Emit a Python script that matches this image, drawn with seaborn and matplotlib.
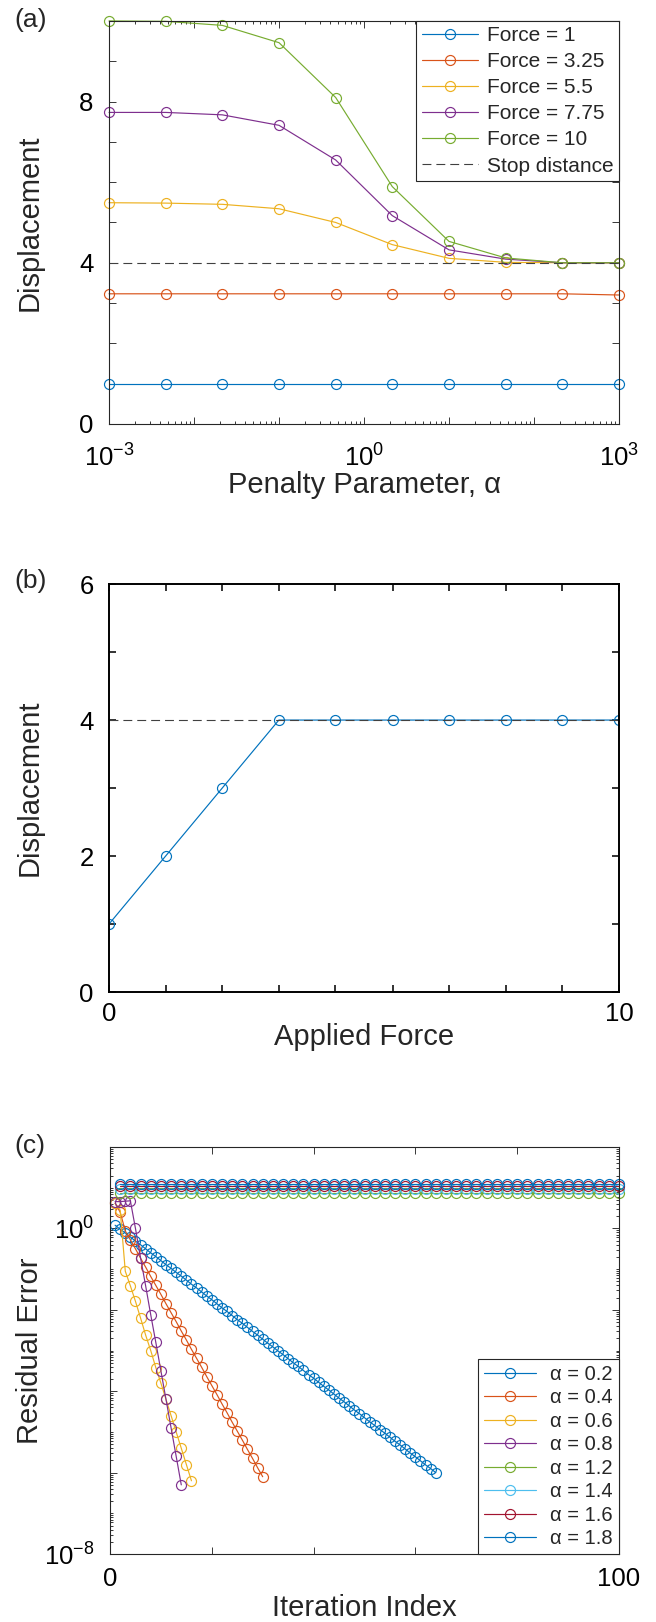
import numpy as np
import pandas as pd
import matplotlib
matplotlib.use('Agg')
import matplotlib.pyplot as plt
import seaborn as sns
from matplotlib.ticker import LogLocator, NullFormatter

# --- data ---
# (a) displacement vs penalty parameter
alpha_pen = [1e-3, 4.64e-3, 2.15e-2, 0.1, 0.464, 2.15, 10, 46.4, 215, 1000]
force_labels = ['Force = 1', 'Force = 3.25', 'Force = 5.5', 'Force = 7.75', 'Force = 10']
disp_f1 = [1.0, 1.0, 1.0, 1.0, 1.0, 1.0, 1.0, 1.0, 1.0, 1.0]
disp_f325 = [3.23, 3.23, 3.23, 3.23, 3.23, 3.23, 3.23, 3.23, 3.23, 3.20]
disp_f55 = [5.49, 5.48, 5.45, 5.34, 5.00, 4.45, 4.11, 4.01, 4.00, 4.00]
disp_f775 = [7.73, 7.73, 7.67, 7.41, 6.55, 5.17, 4.32, 4.09, 4.00, 4.00]
disp_f10 = [10.0, 9.99, 9.89, 9.46, 8.10, 5.89, 4.53, 4.12, 4.00, 4.00]
stop_distance = 4

# (b) displacement vs applied force
applied_force = [0, 1.11, 2.22, 3.33, 4.44, 5.56, 6.67, 7.78, 8.89, 10]
disp_b = [1, 2, 3, 4, 4, 4, 4, 4, 4, 4]

# (c) residual error (log10) per iteration
alpha_labels = ['α = 0.2', 'α = 0.4', 'α = 0.6', 'α = 0.8',
                'α = 1.2', 'α = 1.4', 'α = 1.6', 'α = 1.8']
res_02 = [0.08, -0.02, -0.11, -0.21, -0.31, -0.40, -0.50, -0.60, -0.69, -0.79,
          -0.89, -0.98, -1.08, -1.17, -1.27, -1.37, -1.46, -1.56, -1.66, -1.75,
          -1.85, -1.95, -2.04, -2.14, -2.24, -2.33, -2.43, -2.53, -2.62, -2.72,
          -2.82, -2.91, -3.01, -3.10, -3.20, -3.30, -3.39, -3.49, -3.59, -3.68,
          -3.78, -3.88, -3.97, -4.07, -4.17, -4.26, -4.36, -4.46, -4.55, -4.65,
          -4.75, -4.84, -4.94, -5.03, -5.13, -5.23, -5.32, -5.42, -5.52, -5.61,
          -5.71, -5.81, -5.90, -6.00]
res_04 = [0.62, 0.40, -0.06, -0.28, -0.50, -0.73, -0.95, -1.18, -1.40, -1.62,
          -1.85, -2.07, -2.29, -2.52, -2.74, -2.97, -3.19, -3.41, -3.64, -3.86,
          -4.08, -4.31, -4.53, -4.76, -4.98, -5.20, -5.43, -5.65, -5.88, -6.10]
res_06 = [0.62, 0.45, -1.05, -1.41, -1.79, -2.20, -2.62, -3.00, -3.42, -3.80,
          -4.20, -4.60, -5.00, -5.40, -5.80, -6.20]
res_08 = [0.66, 0.66, 0.67, 0.68, 0.00, -0.72, -1.41, -2.12, -2.80, -3.50,
          -4.20, -4.90, -5.60, -6.30]
flat_levels = {'α = 1.2': 7.3, 'α = 1.4': 9.3, 'α = 1.6': 11.0, 'α = 1.8': 12.3}

colors = ['#0072BD', '#D95319', '#EDB120', '#7E2F8E', '#77AC30', '#4DBEEE', '#A2142F', '#0072BD']

sns.set_theme(style='ticks')
plt.rcParams['font.family'] = ['Liberation Sans', 'DejaVu Sans']
plt.rcParams['mathtext.default'] = 'regular'

TICK_FS = 18.5
LABEL_FS = 21
AX_COL = '#262626'


def style_axes(ax, col=AX_COL, lw=0.8, xpad=9):
    for s in ax.spines.values():
        s.set_color(col)
        s.set_linewidth(lw)
        s.set_visible(True)
    ax.tick_params(which='both', direction='in', top=True, right=True, bottom=True, left=True,
                   color=col, width=lw * 0.8, labelsize=TICK_FS, labelcolor='black')
    ax.tick_params(which='major', length=5)
    ax.tick_params(which='minor', length=2.5)
    ax.tick_params(axis='x', which='major', pad=xpad)
    ax.tick_params(axis='y', which='major', pad=11)
    ax.grid(False)


def line(ax, x, y, col, label=None, clip=False):
    sns.lineplot(x=x, y=y, ax=ax, color=col, lw=0.85, marker='o', markersize=7.2,
                 markerfacecolor='none', markeredgecolor=col, markeredgewidth=0.85,
                 label=label, clip_on=clip, legend=False)


fig = plt.figure(figsize=(6.56, 16.22), dpi=100)

# ---------------- (a) ----------------
ax1 = fig.add_axes([0.1662, 0.7386, 0.7774, 0.2485])
for vals, lab, col in zip([disp_f1, disp_f325, disp_f55, disp_f775, disp_f10], force_labels, colors):
    line(ax1, alpha_pen, vals, col, lab)
ax1.axhline(stop_distance, color='#404040', lw=0.8, dashes=(8, 4.5), label='Stop distance')
ax1.set_xscale('log')
ax1.set_xlim(1e-3, 1e3)
ax1.set_ylim(0, 10)
ax1.set_xticks([1e-3, 1e-2, 1e-1, 1e0, 1e1, 1e2, 1e3])
ax1.set_xticklabels([r'$10^{-3}$', '', '', r'$10^{0}$', '', '', r'$10^{3}$'])
ax1.xaxis.set_minor_locator(LogLocator(base=10, subs=np.arange(2, 10), numticks=20))
ax1.xaxis.set_minor_formatter(NullFormatter())
ax1.set_yticks(range(0, 11))
ax1.set_yticklabels(['0', '', '', '', '4', '', '', '', '8', '', ''])
style_axes(ax1, xpad=15)
ax1.set_xlabel('Penalty Parameter, α', fontsize=LABEL_FS)
ax1.set_ylabel('Displacement', fontsize=LABEL_FS, va='center')
ax1.xaxis.set_label_coords(0.5, -0.117)
ax1.yaxis.set_label_coords(-0.155, 0.5)
leg1 = ax1.legend(loc='upper right', bbox_to_anchor=(1, 1), borderaxespad=0, fontsize=15,
                  frameon=True, fancybox=False, framealpha=1, edgecolor=AX_COL,
                  handlelength=2.7, handletextpad=0.45, labelspacing=0.34, borderpad=0.25)
leg1.get_frame().set_linewidth(0.8)

# ---------------- (b) ----------------
ax2 = fig.add_axes([0.1662, 0.3884, 0.7774, 0.2515])
line(ax2, applied_force, disp_b, colors[0], clip=True)
ax2.plot([0, 10], [stop_distance, stop_distance], color='#404040', lw=0.8, dashes=(8, 4.5))
ax2.set_xlim(0, 10)
ax2.set_ylim(0, 6)
ax2.set_xticks(applied_force)
ax2.set_xticklabels(['0', '', '', '', '', '', '', '', '', '10'])
ax2.set_yticks(range(0, 7))
ax2.set_yticklabels(['0', '', '2', '', '4', '', '6'])
style_axes(ax2, col='black', lw=1.4, xpad=7)
ax2.set_xlabel('Applied Force', fontsize=LABEL_FS)
ax2.set_ylabel('Displacement', fontsize=LABEL_FS, va='center')
ax2.xaxis.set_label_coords(0.5, -0.076)
ax2.yaxis.set_label_coords(-0.155, 0.5)

# ---------------- (c) ----------------
ax3 = fig.add_axes([0.1677, 0.0419, 0.7759, 0.2509])
conv = [res_02, res_04, res_06, res_08]
for vals, lab, col in zip(conv, alpha_labels[:4], colors[:4]):
    it = np.arange(1, len(vals) + 1)
    line(ax3, it, 10.0 ** np.array(vals), col, lab)
flat_it = np.arange(2, 101, 2)
for (lab, lev), col in zip(flat_levels.items(), colors[4:]):
    line(ax3, flat_it, np.full(len(flat_it), lev), col, lab)
ax3.set_yscale('log')
ax3.set_xlim(0, 100)
ax3.set_ylim(1e-8, 1e2)
ax3.set_xticks([0, 20, 40, 60, 80, 100])
ax3.set_xticklabels(['0', '', '', '', '', '100'])
ax3.set_yticks([1e-8, 1e-6, 1e-4, 1e-2, 1e0, 1e2])
ax3.set_yticklabels([r'$10^{-8}$', '', '', '', r'$10^{0}$', ''])
ax3.yaxis.set_minor_locator(LogLocator(base=10, subs=np.arange(1, 10), numticks=30))
ax3.yaxis.set_minor_formatter(NullFormatter())
style_axes(ax3, xpad=9)
ax3.set_xlabel('Iteration Index', fontsize=LABEL_FS)
ax3.set_ylabel('Residual Error', fontsize=LABEL_FS, va='center')
ax3.xaxis.set_label_coords(0.5, -0.098)
ax3.yaxis.set_label_coords(-0.157, 0.5)
leg3 = ax3.legend(loc='lower right', bbox_to_anchor=(1, 0), borderaxespad=0, fontsize=14.5,
                  frameon=True, fancybox=False, framealpha=1, edgecolor=AX_COL,
                  handlelength=2.6, handletextpad=0.7, labelspacing=0.22, borderpad=0.3)
leg3.get_frame().set_linewidth(0.8)

for txt, ytop in [('(a)', 8), ('(b)', 569), ('(c)', 1134)]:
    fig.text(14 / 656, 1 - ytop / 1622, txt, fontsize=19, va='top', ha='left')

fig.savefig('out.png', dpi=100)
